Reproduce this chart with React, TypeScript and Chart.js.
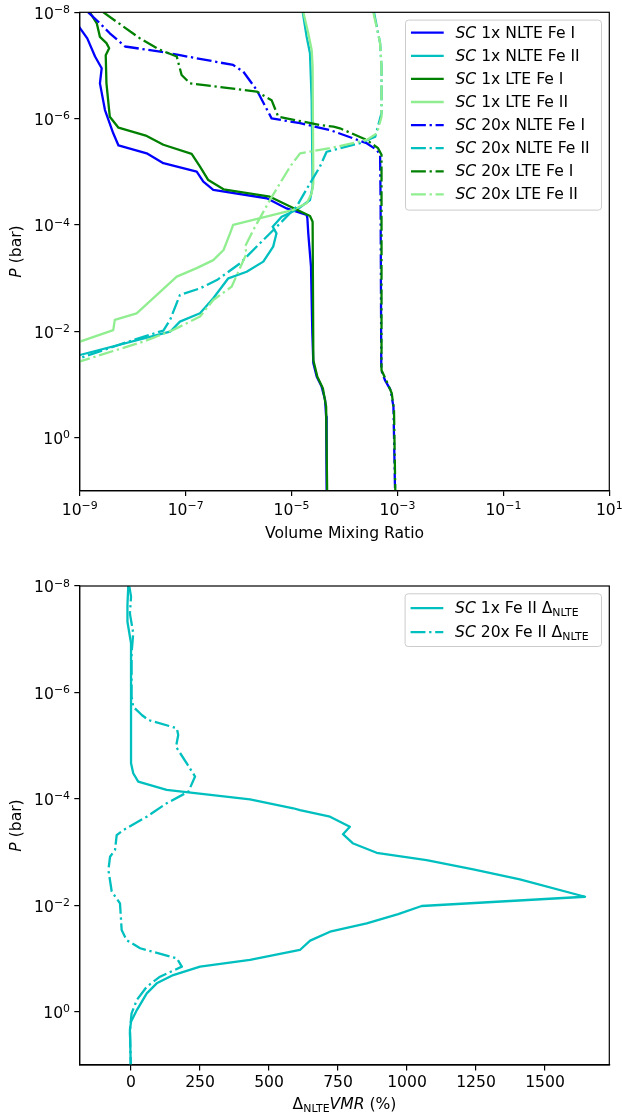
import React, { useEffect, useRef } from "react";
import { Chart, registerables } from "chart.js";

Chart.register(...registerables);

const FONT = '"DejaVu Sans", sans-serif';
const FS = 15.6;
const SUPFS = FS * 0.7;
const LW = 2.3;
const DASHDOT = [14.9, 3.7, 2.3, 3.7];

const C_BLUE = "#0000ff";
const C_CYAN = "#00bfbf";
const C_GREEN = "#008000";
const C_LGREEN = "#90ee90";

type Pt = [number, number];

// ---------- Top panel: [pressure (bar), volume mixing ratio] ----------
const SC1_NLTE_FE1: Pt[] = [
  [1e-8, 6.3e-10], [2.0e-8, 1.02e-9], [3.1e-8, 1.39e-9], [6.8e-8, 1.95e-9], [1.13e-7, 2.6e-9],
  [2.17e-7, 2.41e-9], [6.9e-7, 3.0e-9], [1.89e-6, 4.3e-9], [3.2e-6, 5.4e-9], [4.5e-6, 1.84e-8],
  [6.9e-6, 3.8e-8], [9.95e-6, 1.62e-7], [1.54e-5, 2.16e-7], [2.2e-5, 3.33e-7], [3.15e-5, 3.4e-6],
  [4.9e-5, 8.1e-6], [6.5e-5, 1.93e-5], [7.5e-5, 1.99e-5], [1.44e-4, 2.07e-5], [6.1e-4, 2.33e-5],
  [1.09e-2, 2.47e-5], [4.0e-2, 2.58e-5], [7.2e-2, 2.99e-5], [0.11, 3.7e-5], [0.196, 4.3e-5],
  [0.405, 4.5e-5], [10, 4.6e-5],
];
const SC1_NLTE_FE2: Pt[] = [
  [1e-8, 1.63e-5], [2.9e-8, 1.93e-5], [5.9e-8, 2.23e-5], [4.5e-7, 2.4e-5], [1.91e-5, 2.5e-5],
  [3.4e-5, 2.23e-5], [5.2e-5, 1.25e-5], [7.0e-5, 6.5e-6], [1.08e-4, 4.4e-6], [1.44e-4, 5.2e-6],
  [2.56e-4, 4.5e-6], [4.9e-4, 2.93e-6], [7.6e-4, 1.42e-6], [1.01e-3, 6.4e-7], [2.4e-3, 3.33e-7],
  [4.6e-3, 1.87e-7], [6.6e-3, 7.8e-8], [1.02e-2, 5.1e-8], [2.8e-2, 1.01e-9], [3.8e-2, 3.2e-10],
];
const SC1_LTE_FE1: Pt[] = [
  [1e-8, 1.56e-9], [1.61e-8, 2.1e-9], [2.9e-8, 2.41e-9], [3.8e-8, 3.2e-9], [4.75e-8, 3.6e-9],
  [6.4e-8, 3.1e-9], [2.17e-7, 3.2e-9], [9.2e-7, 3.7e-9], [1.48e-6, 5.4e-9], [2.12e-6, 1.84e-8],
  [3.1e-6, 3.8e-8], [4.6e-6, 1.3e-7], [8.0e-6, 1.87e-7], [1.43e-5, 2.68e-7], [2.14e-5, 5.2e-7],
  [2.94e-5, 3.9e-6], [4.5e-5, 9.4e-6], [6.8e-5, 2.23e-5], [8.7e-5, 2.5e-5], [3.5e-2, 2.58e-5],
  [7.2e-2, 3.07e-5], [0.118, 3.9e-5], [0.262, 4.5e-5], [10, 4.7e-5],
];
const SC1_LTE_FE2: Pt[] = [
  [1e-8, 1.67e-5], [2.48e-8, 2.07e-5], [5.1e-8, 2.4e-5], [1.05e-7, 2.5e-5], [1.65e-5, 2.58e-5],
  [2.54e-5, 2.4e-5], [3.9e-5, 1.93e-5], [5.2e-5, 1.08e-5], [1.0e-4, 7.9e-7], [1.44e-4, 6.9e-7],
  [2.96e-4, 5.2e-7], [4.6e-4, 3.33e-7], [6.5e-4, 1.62e-7], [9.4e-4, 6.8e-8], [4.6e-3, 1.19e-8],
  [6.1e-3, 4.6e-9], [9.5e-3, 4.3e-9], [1.57e-2, 1.01e-9], [2.4e-2, 3.2e-10],
];
const SC20_NLTE_FE1: Pt[] = [
  [1e-8, 1.45e-9], [1.61e-8, 2.41e-9], [2.48e-8, 3.7e-9], [4.4e-8, 7.2e-9], [5.5e-8, 3.3e-8],
  [6.4e-8, 7.8e-8], [9.8e-8, 7.9e-7], [1.31e-7, 1.23e-6], [2.9e-7, 2.2e-6], [9.9e-7, 4.2e-6],
  [1.22e-6, 1.45e-5], [1.64e-6, 5.3e-5], [2.9e-6, 2.62e-4], [3.9e-6, 4.1e-4], [4.8e-6, 4.7e-4],
  [3.4e-5, 4.8e-4], [5.4e-2, 4.95e-4], [8.3e-2, 5.8e-4], [0.127, 7.4e-4], [0.262, 8.4e-4],
  [10, 9.0e-4],
];
const SC20_NLTE_FE2: Pt[] = [
  [1e-8, 3.6e-4], [3.8e-8, 4.7e-4], [1.05e-7, 5.0e-4], [7.9e-7, 5.0e-4], [2.19e-6, 3.8e-4],
  [2.9e-6, 1.96e-4], [4.2e-6, 4.6e-5], [8.0e-6, 3.44e-5], [1.65e-5, 2.23e-5], [4.5e-5, 1.25e-5],
  [9.3e-5, 6.1e-6], [1.92e-4, 2.93e-6], [5.3e-4, 1.06e-6], [1.09e-3, 3.9e-7], [1.56e-3, 1.87e-7],
  [2.08e-3, 7.8e-8], [6.1e-3, 5.1e-8], [9.7e-3, 3.8e-8], [1.46e-2, 1.03e-8], [3.2e-2, 1.01e-9],
  [4.8e-2, 3.2e-10],
];
const SC20_LTE_FE1: Pt[] = [
  [1e-8, 2.8e-9], [3.1e-8, 1.38e-8], [5.1e-8, 3.3e-8], [6.8e-8, 6.8e-8], [1.51e-7, 8.4e-8],
  [2.17e-7, 1.21e-7], [3.1e-7, 2.2e-6], [4.5e-7, 4.2e-6], [9.2e-7, 5.6e-6], [1.32e-6, 3.44e-5],
  [1.42e-6, 6.2e-5], [1.52e-6, 8.2e-5], [2.52e-6, 2.62e-4], [3.6e-6, 4.3e-4], [4.8e-6, 5.0e-4],
  [5.4e-2, 5.0e-4], [8.9e-2, 6.3e-4], [0.147, 7.8e-4], [0.303, 8.6e-4], [10, 9.1e-4],
];
const SC20_LTE_FE2: Pt[] = [
  [1e-8, 3.5e-4], [3.8e-8, 4.7e-4], [1.05e-7, 5.0e-4], [9.2e-7, 5.0e-4], [1.89e-6, 4.1e-4],
  [2.52e-6, 2.62e-4], [3.6e-6, 5.3e-5], [4.5e-6, 1.45e-5], [8.0e-6, 9.4e-6], [3.4e-5, 3.9e-6],
  [1.24e-4, 1.9e-6], [2.56e-4, 1.32e-6], [3.4e-4, 1.42e-6], [1.45e-3, 7.4e-7], [2.58e-3, 3.33e-7],
  [5.3e-3, 1.87e-7], [9.5e-3, 5.8e-8], [1.57e-2, 1.59e-8], [3.7e-2, 1.01e-9], [5.4e-2, 3.2e-10],
];

// ---------- Bottom panel: [pressure (bar), Delta_NLTE VMR (%)] ----------
const SC1_DELTA_FE2: Pt[] = [
  [1e-8, -10], [2.3e-8, -13], [4.7e-8, -13], [1.19e-7, 0], [2.15e-5, 0], [3.3e-5, 8],
  [4.75e-5, 26], [6.8e-5, 129], [1.02e-4, 431], [1.5e-4, 588], [1.62e-4, 612], [2.16e-4, 721],
  [3.33e-4, 793], [4.6e-4, 768], [6.8e-4, 803], [1.03e-3, 890], [1.41e-3, 1071], [2.1e-3, 1240],
  [3.24e-3, 1409], [6.9e-3, 1645], [1.03e-2, 1053], [1.46e-2, 968], [2.18e-2, 854], [3.13e-2, 721],
  [4.6e-2, 649], [6.9e-2, 612], [0.106, 431], [0.142, 250], [0.204, 153], [0.292, 93],
  [0.45, 57], [0.93, 21], [1.54, 0], [2.2, -4], [10, -1],
];
const SC20_DELTA_FE2: Pt[] = [
  [1.03e-8, -6], [1.59e-8, 0], [3.3e-8, -4], [7.7e-8, 8], [1.84e-7, 2], [1.2e-6, 2],
  [1.85e-6, 8], [2.65e-6, 39], [3.3e-6, 63], [4.7e-6, 166], [6.3e-6, 171], [1.05e-5, 163],
  [2.15e-5, 202], [3.8e-5, 232], [7.3e-5, 208], [1.21e-4, 129], [2.16e-4, 57], [3.85e-4, -28],
  [4.8e-4, -52], [9.1e-4, -58], [1.22e-3, -76], [2.17e-3, -82], [5.5e-3, -70], [9.2e-3, -40],
  [2.9e-2, -34], [4.5e-2, -16], [6.4e-2, 33], [9.9e-2, 166], [0.142, 184], [0.219, 105],
  [0.338, 57], [0.6, 21], [1.07, 2], [2.2, -4], [10, -1],
];

// ---------- Ticks ----------
const TOP_X_TICKS = [1e-9, 1e-7, 1e-5, 1e-3, 1e-1, 1e1];
const P_TICKS = [1e-8, 1e-6, 1e-4, 1e-2, 1e0];
const BOTTOM_X_TICKS = [0, 250, 500, 750, 1000, 1250, 1500];

type Run = { t: string; s: "n" | "i" | "sub" };
type LegendEntry = { runs: Run[]; color: string; dashed: boolean };

const TOP_LEGEND: LegendEntry[] = [
  { runs: [{ t: "SC", s: "i" }, { t: " 1x NLTE Fe I", s: "n" }], color: C_BLUE, dashed: false },
  { runs: [{ t: "SC", s: "i" }, { t: " 1x NLTE Fe II", s: "n" }], color: C_CYAN, dashed: false },
  { runs: [{ t: "SC", s: "i" }, { t: " 1x LTE Fe I", s: "n" }], color: C_GREEN, dashed: false },
  { runs: [{ t: "SC", s: "i" }, { t: " 1x LTE Fe II", s: "n" }], color: C_LGREEN, dashed: false },
  { runs: [{ t: "SC", s: "i" }, { t: " 20x NLTE Fe I", s: "n" }], color: C_BLUE, dashed: true },
  { runs: [{ t: "SC", s: "i" }, { t: " 20x NLTE Fe II", s: "n" }], color: C_CYAN, dashed: true },
  { runs: [{ t: "SC", s: "i" }, { t: " 20x LTE Fe I", s: "n" }], color: C_GREEN, dashed: true },
  { runs: [{ t: "SC", s: "i" }, { t: " 20x LTE Fe II", s: "n" }], color: C_LGREEN, dashed: true },
];
const BOTTOM_LEGEND: LegendEntry[] = [
  { runs: [{ t: "SC", s: "i" }, { t: " 1x Fe II \u0394", s: "n" }, { t: "NLTE", s: "sub" }], color: C_CYAN, dashed: false },
  { runs: [{ t: "SC", s: "i" }, { t: " 20x Fe II \u0394", s: "n" }, { t: "NLTE", s: "sub" }], color: C_CYAN, dashed: true },
];

function fontFor(s: Run["s"]) {
  if (s === "i") return `italic ${FS}px ${FONT}`;
  if (s === "sub") return `${SUPFS}px ${FONT}`;
  return `${FS}px ${FONT}`;
}
function runsWidth(ctx: CanvasRenderingContext2D, runs: Run[]) {
  let w = 0;
  for (const r of runs) { ctx.font = fontFor(r.s); w += ctx.measureText(r.t).width; }
  return w;
}
function drawRuns(ctx: CanvasRenderingContext2D, runs: Run[], x: number, base: number) {
  ctx.textAlign = "left";
  ctx.textBaseline = "alphabetic";
  for (const r of runs) {
    ctx.font = fontFor(r.s);
    ctx.fillText(r.t, x, base + (r.s === "sub" ? 3 : 0));
    x += ctx.measureText(r.t).width;
  }
}
function drawPow(ctx: CanvasRenderingContext2D, v: number, x: number, base: number, align: "center" | "right") {
  const exp = Math.round(Math.log10(v));
  const a = "10";
  const b = (exp < 0 ? "\u2212" : "") + Math.abs(exp);
  ctx.font = `${FS}px ${FONT}`;
  const wa = ctx.measureText(a).width;
  ctx.font = `${SUPFS}px ${FONT}`;
  const wb = ctx.measureText(b).width;
  const x0 = align === "center" ? x - (wa + wb) / 2 : x - (wa + wb);
  ctx.textAlign = "left";
  ctx.textBaseline = "alphabetic";
  ctx.font = `${FS}px ${FONT}`;
  ctx.fillText(a, x0, base);
  ctx.font = `${SUPFS}px ${FONT}`;
  ctx.fillText(b, x0 + wa, base - 5.8);
}
function roundRect(ctx: CanvasRenderingContext2D, x: number, y: number, w: number, h: number, r: number) {
  ctx.beginPath();
  ctx.moveTo(x + r, y);
  ctx.lineTo(x + w - r, y);
  ctx.quadraticCurveTo(x + w, y, x + w, y + r);
  ctx.lineTo(x + w, y + h - r);
  ctx.quadraticCurveTo(x + w, y + h, x + w - r, y + h);
  ctx.lineTo(x + r, y + h);
  ctx.quadraticCurveTo(x, y + h, x, y + h - r);
  ctx.lineTo(x, y + r);
  ctx.quadraticCurveTo(x, y, x + r, y);
  ctx.closePath();
}

type DecorCfg = {
  logX: boolean;
  xTitle: Run[];
  xTitleOffset: number;
  legend: LegendEntry[];
  legendFirst: number;
  legendStep: number;
  legendHeight: number;
  legendMinWidth: number;
};

function decorPlugin(cfg: DecorCfg) {
  return {
    id: "decor",
    afterDraw(chart: any) {
      const ctx: CanvasRenderingContext2D = chart.ctx;
      const ca = chart.chartArea;
      ctx.save();
      ctx.setLineDash([]);
      ctx.strokeStyle = "#000";
      ctx.lineWidth = 1.2;
      ctx.strokeRect(ca.left, ca.top, ca.right - ca.left, ca.bottom - ca.top);

      ctx.fillStyle = "#000";
      const ys = chart.scales.y;
      for (const v of P_TICKS) drawPow(ctx, v, ca.left - 9.7, ys.getPixelForValue(v) + 6.4, "right");
      if (cfg.logX) {
        const xs = chart.scales.x;
        for (const v of TOP_X_TICKS) drawPow(ctx, v, xs.getPixelForValue(v), ca.bottom + 24.3, "center");
      }

      // x title
      const xw = runsWidth(ctx, cfg.xTitle);
      drawRuns(ctx, cfg.xTitle, (ca.left + ca.right) / 2 - xw / 2, ca.bottom + cfg.xTitleOffset);
      // y title
      const yRuns: Run[] = [{ t: "P", s: "i" }, { t: " (bar)", s: "n" }];
      ctx.save();
      ctx.translate(20.5, (ca.top + ca.bottom) / 2);
      ctx.rotate(-Math.PI / 2);
      const yw = runsWidth(ctx, yRuns);
      drawRuns(ctx, yRuns, -yw / 2, 0);
      ctx.restore();

      // legend
      let maxW = 0;
      for (const e of cfg.legend) maxW = Math.max(maxW, runsWidth(ctx, e.runs));
      const right = ca.right - 0.5 * FS;
      const top = ca.top + 0.5 * FS;
      const width = Math.max(cfg.legendMinWidth, 0.4 * FS + 2 * FS + 0.8 * FS + maxW + 0.4 * FS);
      const left = right - width;
      roundRect(ctx, left, top, width, cfg.legendHeight, 0.2 * FS);
      ctx.fillStyle = "rgba(255,255,255,0.8)";
      ctx.fill();
      ctx.strokeStyle = "#cccccc";
      ctx.lineWidth = 1;
      ctx.stroke();
      cfg.legend.forEach((e, i) => {
        const cy = top + cfg.legendFirst + i * cfg.legendStep;
        ctx.save();
        ctx.strokeStyle = e.color;
        ctx.lineWidth = LW;
        ctx.lineCap = "butt";
        ctx.setLineDash(e.dashed ? DASHDOT : []);
        ctx.beginPath();
        ctx.moveTo(left + 0.35 * FS, cy);
        ctx.lineTo(left + 2.45 * FS, cy);
        ctx.stroke();
        ctx.restore();
        ctx.fillStyle = "#000";
        drawRuns(ctx, e.runs, left + 3.2 * FS, cy + 5);
      });
      ctx.restore();
    },
  };
}

function series(label: string, data: Pt[], color: string, dashed: boolean, order: number) {
  return {
    label,
    data: data.map(([p, v]) => ({ x: v, y: p })),
    borderColor: color,
    backgroundColor: color,
    borderWidth: LW,
    borderDash: dashed ? DASHDOT : [],
    borderJoinStyle: "round" as const,
    borderCapStyle: "butt" as const,
    showLine: true,
    pointRadius: 0,
    pointHoverRadius: 0,
    tension: 0,
    fill: false,
    order,
  };
}

const GRID = { display: true, drawOnChartArea: false, drawTicks: true, tickLength: 5.4, color: "#000", lineWidth: 1.2 };
const BORDER = { display: true, color: "#000", width: 1.2 };

function yScale() {
  return {
    type: "logarithmic" as const,
    reverse: true,
    min: 1e-8,
    max: 10,
    afterBuildTicks: (s: any) => { s.ticks = P_TICKS.map((v) => ({ value: v })); },
    afterFit: (s: any) => { s.width = 79.7; },
    ticks: { display: false },
    grid: GRID,
    border: BORDER,
  };
}

function buildTop(canvas: HTMLCanvasElement) {
  const sets = [
    series("SC 1x NLTE Fe I", SC1_NLTE_FE1, C_BLUE, false, 8),
    series("SC 1x NLTE Fe II", SC1_NLTE_FE2, C_CYAN, false, 7),
    series("SC 1x LTE Fe I", SC1_LTE_FE1, C_GREEN, false, 6),
    series("SC 1x LTE Fe II", SC1_LTE_FE2, C_LGREEN, false, 5),
    series("SC 20x NLTE Fe I", SC20_NLTE_FE1, C_BLUE, true, 4),
    series("SC 20x NLTE Fe II", SC20_NLTE_FE2, C_CYAN, true, 3),
    series("SC 20x LTE Fe I", SC20_LTE_FE1, C_GREEN, true, 2),
    series("SC 20x LTE Fe II", SC20_LTE_FE2, C_LGREEN, true, 1),
  ];
  return new Chart(canvas, {
    type: "scatter",
    data: { datasets: sets as any },
    options: {
      animation: false,
      responsive: false,
      devicePixelRatio: 1,
      events: [],
      layout: { padding: { left: 0, top: 12.3, right: 12.7, bottom: 0 } },
      plugins: { legend: { display: false }, tooltip: { enabled: false } },
      scales: {
        x: {
          type: "logarithmic",
          min: 1e-9,
          max: 10,
          afterBuildTicks: (s: any) => { s.ticks = TOP_X_TICKS.map((v) => ({ value: v })); },
          afterFit: (s: any) => { s.height = 64.3; },
          ticks: { display: false },
          grid: GRID,
          border: BORDER,
        },
        y: yScale(),
      },
    } as any,
    plugins: [
      decorPlugin({
        logX: true,
        xTitle: [{ t: "Volume Mixing Ratio", s: "n" }],
        xTitleOffset: 47.6,
        legend: TOP_LEGEND,
        legendFirst: 12.6,
        legendStep: 23.1,
        legendHeight: 190,
        legendMinWidth: 196,
      }),
    ],
  });
}

function buildBottom(canvas: HTMLCanvasElement) {
  const sets = [
    series("SC 1x Fe II Delta NLTE", SC1_DELTA_FE2, C_CYAN, false, 2),
    series("SC 20x Fe II Delta NLTE", SC20_DELTA_FE2, C_CYAN, true, 1),
  ];
  return new Chart(canvas, {
    type: "scatter",
    data: { datasets: sets as any },
    options: {
      animation: false,
      responsive: false,
      devicePixelRatio: 1,
      events: [],
      layout: { padding: { left: 0, top: 31, right: 12.7, bottom: 0 } },
      plugins: { legend: { display: false }, tooltip: { enabled: false } },
      scales: {
        x: {
          type: "linear",
          min: -186,
          max: 1733,
          afterBuildTicks: (s: any) => { s.ticks = BOTTOM_X_TICKS.map((v) => ({ value: v })); },
          afterFit: (s: any) => { s.height = 50; },
          ticks: {
            display: true,
            font: { family: "DejaVu Sans", size: FS },
            color: "#000",
            padding: 3,
            maxRotation: 0,
            autoSkip: false,
            callback: (v: any) => String(v),
          },
          grid: GRID,
          border: BORDER,
        },
        y: yScale(),
      },
    } as any,
    plugins: [
      decorPlugin({
        logX: false,
        xTitle: [
          { t: "\u0394", s: "n" },
          { t: "NLTE", s: "sub" },
          { t: "VMR", s: "i" },
          { t: " (%)", s: "n" },
        ],
        xTitleOffset: 44,
        legend: BOTTOM_LEGEND,
        legendFirst: 14.3,
        legendStep: 24,
        legendHeight: 52.7,
        legendMinWidth: 196.4,
      }),
    ],
  });
}

function ChartCanvas({ height, build }: { height: number; build: (c: HTMLCanvasElement) => Chart }) {
  const ref = useRef<HTMLCanvasElement>(null);
  useEffect(() => {
    const ch = build(ref.current as HTMLCanvasElement);
    return () => ch.destroy();
  }, []);
  return <canvas ref={ref} width={622} height={height} style={{ display: "block", width: 622, height }} />;
}

export default function App() {
  return (
    <div style={{ position: "absolute", left: 0, top: 0, width: 622, height: 1115, background: "#fff" }}>
      <ChartCanvas height={555} build={buildTop} />
      <ChartCanvas height={560} build={buildBottom} />
    </div>
  );
}
